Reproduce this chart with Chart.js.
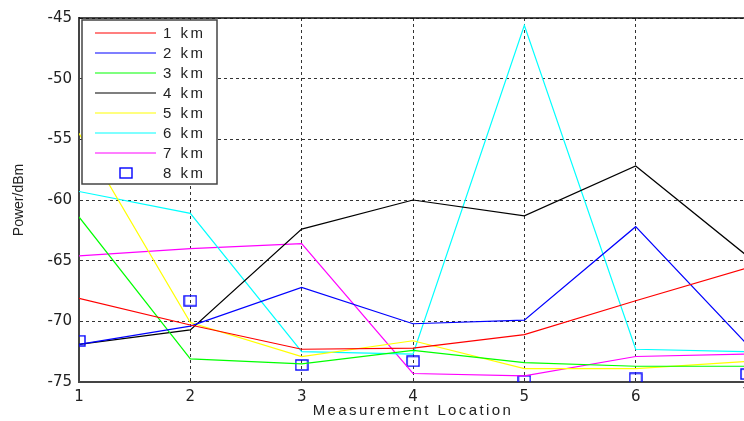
<!DOCTYPE html>
<html>
<head>
<meta charset="utf-8">
<title>Power vs Measurement Location</title>
<script src="https://cdn.jsdelivr.net/npm/chart.js@4/dist/chart.umd.min.js"></script>
<style>
  html, body { margin: 0; padding: 0; background: #fff; }
  #wrap { width: 744px; height: 421px; position: relative; }
</style>
</head>
<body>
<div id="wrap"><canvas id="c" width="744" height="421"></canvas></div>
<script>
// Measurement locations (x axis) and received power per fibre length (dBm)
const locations = [1, 2, 3, 4, 5, 6, 7];
const seriesNames = ['1 km', '2 km', '3 km', '4 km', '5 km', '6 km', '7 km', '8 km'];
const km1 = [-68.1, -70.3, -72.3, -72.2, -71.1, -68.3, -65.6];
const km2 = [-71.9, -70.4, -67.2, -70.2, -69.9, -62.2, -71.9];
const km3 = [-61.4, -73.1, -73.5, -72.4, -73.4, -73.7, -73.7];
const km4 = [-71.9, -70.7, -62.4, -60.0, -61.3, -57.2, -64.6];
const km5 = [-54.5, -70.1, -72.9, -71.6, -73.9, -73.9, -73.3];
const km6 = [-59.3, -61.1, -72.5, -72.7, -45.6, -72.3, -72.5];
const km7 = [-64.6, -64.0, -63.6, -74.3, -74.5, -72.9, -72.7];
const km8 = [-71.6, -68.3, -73.6, -73.3, -74.9, -74.7, -74.35];
const xTicks = [1, 2, 3, 4, 5, 6];
const yTicks = [-75, -70, -65, -60, -55, -50, -45];

const FONT = "'Liberation Sans', Arial, sans-serif";
const TICK_FONT = "'DejaVu Sans', sans-serif";
const colors = ['#ff0000', '#0000ff', '#00ff00', '#000000', '#ffff00', '#00ffff', '#ff00ff', '#0000ff'];
const values = [km1, km2, km3, km4, km5, km6, km7, km8];

// hollow rectangle marker for the 8 km series
const marker = document.createElement('canvas');
marker.width = 14; marker.height = 12;
(function () {
  const m = marker.getContext('2d');
  m.strokeStyle = '#0000ff';
  m.lineWidth = 1.4;
  m.strokeRect(1, 1, 12, 10);
})();

const datasets = values.map((arr, i) => {
  const isMarker = i === 7;
  return {
    label: seriesNames[i],
    data: arr.map((v, k) => ({ x: locations[k], y: v })),
    borderColor: colors[i],
    backgroundColor: colors[i],
    borderWidth: isMarker ? 1.4 : 1.2,
    showLine: !isMarker,
    pointRadius: isMarker ? 6 : 0,
    pointStyle: isMarker ? marker : 'circle',
    tension: 0
  };
});

// Draws the top frame line, the clipped last tick label, axis titles and the boxed legend
const decorations = {
  id: 'decorations',
  afterDraw(chart) {
    const { ctx, chartArea: a } = chart;
    const xs = chart.scales.x;
    ctx.save();
    // top frame
    ctx.strokeStyle = '#111';
    ctx.lineWidth = 1.5;
    ctx.setLineDash([]);
    ctx.beginPath();
    ctx.moveTo(a.left, a.top);
    ctx.lineTo(a.right, a.top);
    ctx.stroke();

    // last location label sits on the canvas edge
    ctx.fillStyle = '#222';
    ctx.font = '15px ' + TICK_FONT;
    ctx.textAlign = 'center';
    ctx.textBaseline = 'top';
    ctx.fillText(String(locations[locations.length - 1]),
      xs.getPixelForValue(locations[locations.length - 1]), a.bottom + 6);

    // x axis title
    ctx.font = '15px ' + FONT;
    ctx.textAlign = 'center';
    ctx.textBaseline = 'middle';
    ctx.letterSpacing = '2.4px';
    ctx.fillText('Measurement Location', 413, 411);

    // y axis title
    ctx.letterSpacing = '0px';
    ctx.save();
    ctx.translate(19, 200);
    ctx.rotate(-Math.PI / 2);
    ctx.font = '14px ' + FONT;
    ctx.fillText('Power/dBm', 0, 0);
    ctx.restore();

    // legend
    const lx = 82, ly = 20, lw = 135, lh = 164;
    ctx.fillStyle = '#fff';
    ctx.fillRect(lx, ly, lw, lh);
    ctx.strokeStyle = '#444';
    ctx.lineWidth = 1.5;
    ctx.strokeRect(lx, ly, lw, lh);
    chart.data.datasets.forEach((ds, i) => {
      const y = 33 + i * 20;
      if (ds.showLine) {
        ctx.strokeStyle = ds.borderColor;
        ctx.lineWidth = 1.2;
        ctx.beginPath();
        ctx.moveTo(95, y);
        ctx.lineTo(156, y);
        ctx.stroke();
      } else {
        ctx.drawImage(marker, 126 - marker.width / 2, y - marker.height / 2);
      }
      ctx.fillStyle = '#222';
      ctx.font = '15px ' + FONT;
      ctx.textAlign = 'left';
      ctx.textBaseline = 'middle';
      ctx.letterSpacing = '2.5px';
      ctx.fillText(ds.label, 163, y + 1);
    });
    ctx.restore();
  }
};

new Chart(document.getElementById('c'), {
  type: 'line',
  data: { datasets },
  options: {
    responsive: false,
    animation: false,
    layout: { autoPadding: false, padding: { top: 18, left: 0, right: 0, bottom: 0 } },
    plugins: { legend: { display: false }, tooltip: { enabled: false } },
    scales: {
      x: {
        type: 'linear',
        min: 1,
        max: 6.973,
        ticks: {
          stepSize: 1,
          includeBounds: false,
          padding: 6,
          color: '#222',
          font: { family: TICK_FONT, size: 15 },
          maxRotation: 0
        },
        afterBuildTicks: s => {
          s.ticks = xTicks.map(v => ({ value: v }));
        },
        afterFit: s => {
          s.height = 39;
          s.paddingLeft = 0;
          s.paddingRight = 0;
        },
        grid: { color: '#333', lineWidth: 1, drawTicks: false },
        border: { display: true, color: '#444', width: 2, dash: [3, 3] }
      },
      y: {
        min: -75,
        max: -45,
        afterBuildTicks: s => {
          s.ticks = yTicks.map(v => ({ value: v }));
        },
        ticks: {
          padding: 7,
          color: '#222',
          font: { family: TICK_FONT, size: 15 }
        },
        afterFit: s => {
          s.width = 79;
          s.paddingTop = 0;
          s.paddingBottom = 0;
        },
        grid: { color: '#333', lineWidth: 1, drawTicks: false },
        border: { display: true, color: '#444', width: 2, dash: [3, 3] }
      }
    }
  },
  plugins: [decorations]
});
</script>
</body>
</html>
